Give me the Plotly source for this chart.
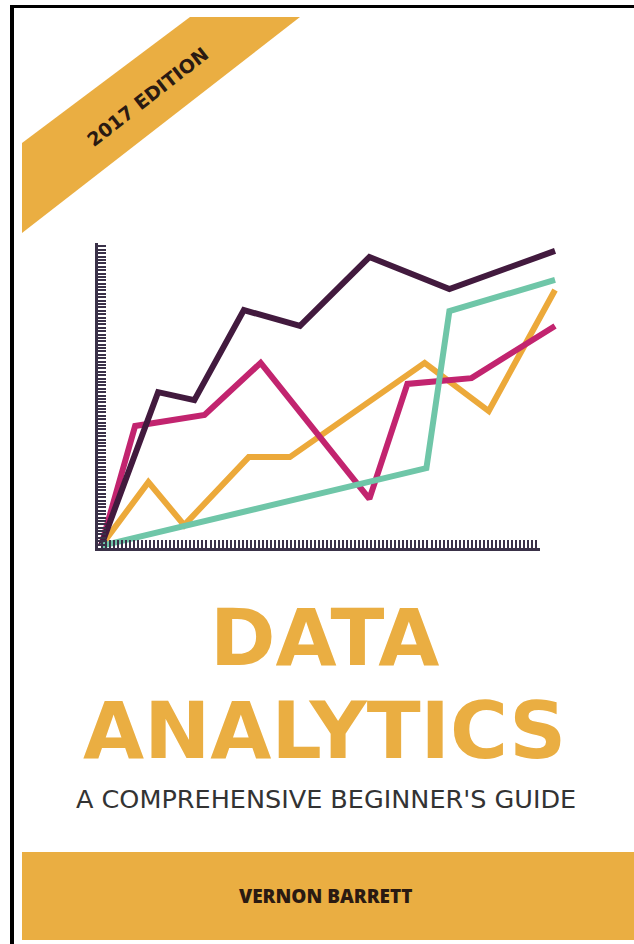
import plotly.graph_objects as go

W, H = 634, 944

# ---- data (x: 0..100 along the drawn axis, y: 0..100 up the drawn axis) ----
dark_x = [0.7, 13.6, 21.8, 33.0, 45.7, 61.4, 79.5, 103.4]
dark_y = [0.7, 51.1, 48.5, 78.0, 72.8, 95.4, 84.9, 97.4]

magenta_x = [0.7, 8.4, 24.1, 36.8, 61.4, 70.0, 84.5, 103.4]
magenta_y = [0.7, 40.0, 43.6, 60.7, 16.1, 53.8, 55.7, 72.8]

orange_x = [0.7, 11.4, 19.5, 34.1, 43.4, 73.9, 88.4, 103.4]
orange_y = [0.7, 21.6, 7.5, 29.8, 29.8, 60.7, 44.9, 84.6]

teal_x = [0.7, 74.3, 79.5, 103.4]
teal_y = [0.7, 26.2, 77.7, 87.9]

title_lines = ["DATA", "ANALYTICS"]
subtitle = "A COMPREHENSIVE BEGINNER'S GUIDE"
author = "VERNON BARRETT"
edition = "2017 EDITION"

# ---- colours ----
C_AXIS = "#3a3148"
C_DARK = "#421a3e"
C_MAG = "#c2246f"
C_ORA = "#eca93a"
C_TEAL = "#6fc6a8"
C_GOLD = "#eaae42"

# ---- geometry (pixels) ----
AX_X0, AX_X1 = 98, 540      # x-axis line extent
AX_Y0, AX_Y1 = 548, 243     # y-axis line extent (bottom, top)


def px(x):
    return x / W


def py(y):
    return 1 - y / H


# data axis mapping: 0 -> AX_X0, 100 -> AX_X1 ; 0 -> AX_Y0, 100 -> AX_Y1
sx = (AX_X1 - AX_X0) / 100.0
sy = (AX_Y0 - AX_Y1) / 100.0
xr = [-AX_X0 / sx, (W - AX_X0) / sx]
yr = [-(H - AX_Y0) / sy, AX_Y0 / sy]

fig = go.Figure()

# empty trace so that the comb axes get drawn
fig.add_trace(go.Scatter(x=[None], y=[None], xaxis="x2", yaxis="y2",
                         showlegend=False, hoverinfo="skip"))

for xs, ys, col in [(orange_x, orange_y, C_ORA),
                    (magenta_x, magenta_y, C_MAG),
                    (dark_x, dark_y, C_DARK),
                    (teal_x, teal_y, C_TEAL)]:
    fig.add_trace(go.Scatter(x=xs, y=ys, mode="lines",
                             line=dict(color=col, width=6),
                             showlegend=False, hoverinfo="skip"))

shapes = []
# black frame (left and top)
shapes.append(dict(type="rect", xref="paper", yref="paper",
                   x0=px(10), x1=px(14), y0=py(H), y1=py(5),
                   fillcolor="black", line=dict(width=0), layer="below"))
shapes.append(dict(type="rect", xref="paper", yref="paper",
                   x0=px(10), x1=px(W), y0=py(8), y1=py(5),
                   fillcolor="black", line=dict(width=0), layer="below"))
# diagonal banner
path = "M {} {} L {} {} L {} {} L {} {} Z".format(
    px(22), py(143), px(190), py(17), px(300), py(17), px(22), py(233))
shapes.append(dict(type="path", xref="paper", yref="paper", path=path,
                   fillcolor=C_GOLD, line=dict(width=0), layer="below"))
# footer band
shapes.append(dict(type="rect", xref="paper", yref="paper",
                   x0=px(22), x1=px(W), y0=py(940), y1=py(852),
                   fillcolor=C_GOLD, line=dict(width=0), layer="below"))


def ann(text, x, y, font, angle=0):
    return dict(text=text, x=px(x), y=py(y), xref="paper", yref="paper",
                xanchor="center", yanchor="middle", showarrow=False,
                textangle=angle, font=font, borderpad=0)


annotations = [
    ann(edition, 147, 97,
        dict(family="DejaVu Sans", size=19, color="#2a1a12", weight=700),
        angle=-38),
    ann(title_lines[0], 324, 638,
        dict(family="DejaVu Sans", size=79, color=C_GOLD, weight=700)),
    ann(title_lines[1], 324, 731,
        dict(family="DejaVu Sans", size=79, color=C_GOLD, weight=700)),
    ann(subtitle, 326, 799,
        dict(family="DejaVu Sans", size=25.5, color="#333333")),
    ann(author, 325, 896,
        dict(family="Open Sans", size=19, color="#2a1a12", weight=800)),
]

comb = dict(showline=True, linewidth=3, linecolor=C_AXIS, ticks="inside",
            ticklen=8, tickwidth=2, tickcolor=C_AXIS, showticklabels=False,
            showgrid=False, zeroline=False, fixedrange=True)

fig.update_layout(
    width=W, height=H, margin=dict(l=0, r=0, t=0, b=0),
    paper_bgcolor="white", plot_bgcolor="rgba(0,0,0,0)",
    showlegend=False,
    xaxis=dict(domain=[0, 1], range=xr, visible=False, fixedrange=True),
    yaxis=dict(domain=[0, 1], range=yr, visible=False, fixedrange=True),
    xaxis2=dict(domain=[px(AX_X0), px(AX_X1)], anchor="y2", range=[0, 110],
                dtick=1, **comb),
    yaxis2=dict(domain=[py(AX_Y0), py(AX_Y1)], anchor="x2", range=[0, 90],
                dtick=1, **comb),
    shapes=shapes, annotations=annotations,
)

fig.write_html("out.html", config={"displayModeBar": False},
               post_script="document.body.style.margin='0';")
